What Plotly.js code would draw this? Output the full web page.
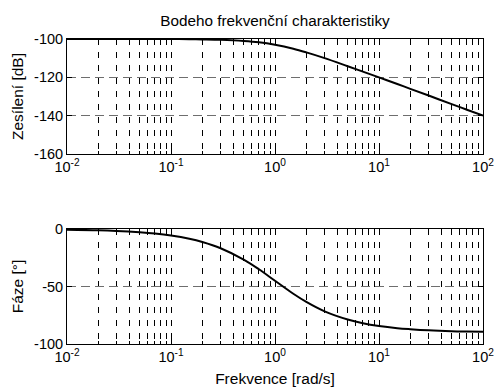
<!DOCTYPE html>
<html>
<head>
<meta charset="utf-8">
<script src="https://cdn.plot.ly/plotly-3.0.1.min.js"></script>
<style>html,body{margin:0;padding:0;background:#fff;}#chart{width:494px;height:390px;}</style>
</head>
<body>
<div id="chart"></div>
<script>
// Frequencies [rad/s]
const freq = [0.01, 0.02, 0.03, 0.05, 0.07, 0.1, 0.15, 0.2, 0.3, 0.5, 0.7, 1, 1.5, 2, 3, 5, 7, 10, 15, 20, 30, 50, 70, 100];
// Gain [dB]
const gainDb = [-100, -100, -100, -100, -100, -100.04, -100.1, -100.2, -100.4, -101, -101.7, -103, -105.1, -107, -110, -114.2, -117, -120, -123.5, -126, -129.5, -134, -136.9, -140];
// Phase [deg]
const phaseDeg = [-0.6, -1.1, -1.7, -2.9, -4, -5.7, -8.5, -11.3, -16.7, -26.6, -35, -45, -56.3, -63.4, -71.6, -78.7, -81.9, -84.3, -86.2, -87.1, -88.1, -88.9, -89.2, -89.4];

const decadeVals = [0.01, 0.1, 1, 10, 100];
const decadeText = ['10<sup>-2</sup>', '10<sup>-1</sup>', '10<sup>0</sup>', '10<sup>1</sup>', '10<sup>2</sup>'];
const minorVals = [];
for (const d of [0.01, 0.1, 1, 10]) for (let k = 2; k <= 9; k++) minorVals.push(+(d * k).toPrecision(3));

const gainTicks = [-100, -120, -140, -160];
const phaseTicks = [0, -50, -100];

const titleText = 'Bodeho frekvenční charakteristiky';
const gainLabel = 'Zesílení [dB]';
const phaseLabel = 'Fáze [°]';
const freqLabel = 'Frekvence [rad/s]';

const FAMILY = 'Liberation Sans, Arial, sans-serif';
const TICKFONT = {family: FAMILY, size: 14.5, color: '#000'};
const LABELFONT = {family: FAMILY, size: 15.5, color: '#000'};
const TITLEFONT = {family: FAMILY, size: 15.3, color: '#000'};

function xAxis(anchor, withTitle) {
  const ax = {
    type: 'log', range: [-2, 2], anchor: anchor,
    tickmode: 'array', tickvals: decadeVals, ticktext: decadeText,
    ticklabeloverflow: 'allow',
    ticks: 'inside', ticklen: 5, tickcolor: '#000', tickwidth: 1,
    showline: true, linecolor: '#000', linewidth: 1, mirror: 'allticks',
    showgrid: true, gridcolor: '#000', gridwidth: 1, griddash: '6px,7px',
    minor: {tickmode: 'array', tickvals: minorVals, ticks: 'inside', ticklen: 3, tickcolor: '#000',
            showgrid: true, gridcolor: '#000', gridwidth: 1, griddash: '6px,7px'},
    zeroline: false, tickfont: TICKFONT, fixedrange: true
  };
  if (withTitle) ax.title = {text: freqLabel, font: LABELFONT, standoff: 8};
  return ax;
}
function yAxis(anchor, domain, range, ticks, label) {
  return {
    anchor: anchor, domain: domain, range: range,
    tickmode: 'array', tickvals: ticks, ticktext: ticks.map(String),
    ticks: 'inside', ticklen: 5, tickcolor: '#000',
    showline: true, linecolor: '#000', linewidth: 1, mirror: 'allticks',
    showgrid: true, gridcolor: '#6e6e6e', gridwidth: 1.5, griddash: '9px,5px',
    zeroline: false, tickfont: TICKFONT, fixedrange: true,
    title: {text: label, font: LABELFONT, standoff: 6}
  };
}

const traces = [
  {x: freq, y: gainDb, xaxis: 'x', yaxis: 'y', mode: 'lines', line: {color: '#000', width: 2, shape: 'spline'}, hoverinfo: 'skip'},
  {x: freq, y: phaseDeg, xaxis: 'x2', yaxis: 'y2', mode: 'lines', line: {color: '#000', width: 2, shape: 'spline'}, hoverinfo: 'skip'}
];

const layout = {
  width: 494, height: 390,
  margin: {l: 67, r: 11, t: 39, b: 46},
  paper_bgcolor: '#fff', plot_bgcolor: '#fff',
  showlegend: false,
  font: TICKFONT,
  title: {text: titleText, font: TITLEFONT, x: 0.5, xref: 'paper', y: 1 - 21 / 390, yref: 'container', yanchor: 'middle'},
  xaxis: xAxis('y', false),
  yaxis: yAxis('x', [0.623, 1], [-160, -100], gainTicks, gainLabel),
  xaxis2: xAxis('y2', true),
  yaxis2: yAxis('x2', [0, 0.377], [-100, 0], phaseTicks, phaseLabel)
};

Plotly.newPlot('chart', traces, layout, {staticPlot: true, displayModeBar: false});
</script>
</body>
</html>
